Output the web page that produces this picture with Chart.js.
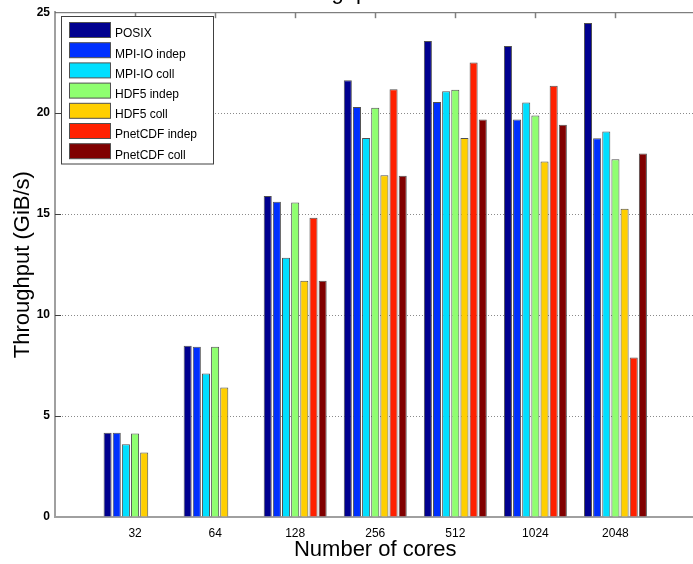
<!DOCTYPE html>
<html>
<head>
<meta charset="utf-8">
<script src="https://cdn.jsdelivr.net/npm/chart.js@4/dist/chart.umd.min.js"></script>
<style>
  html, body { margin: 0; padding: 0; background: #fff; }
  #wrap { width: 693px; height: 564px; overflow: hidden; position: relative; }
  #inner { width: 700px; height: 564px; }
</style>
</head>
<body>
<div id="wrap"><div id="inner"><canvas id="c" width="700" height="564"></canvas></div></div>
<script>
// ---- data ----
const cores = ['32', '64', '128', '256', '512', '1024', '2048'];
const seriesNames = ['POSIX', 'MPI-IO indep', 'MPI-IO coll', 'HDF5 indep', 'HDF5 coll', 'PnetCDF indep', 'PnetCDF coll'];
const posix        = [4.17, 8.48, 15.90, 21.63, 23.57, 23.33, 24.46];
const mpiioIndep   = [4.17, 8.43, 15.61, 20.30, 20.55, 19.68, 18.76];
const mpiioColl    = [3.60, 7.11, 12.84, 18.77, 21.09, 20.53, 19.09];
const hdf5Indep    = [4.14, 8.43, 15.58, 20.27, 21.16, 19.89, 17.72];
const hdf5Coll     = [3.20, 6.41, 11.70, 16.93, 18.77, 17.61, 15.26];
const pnetcdfIndep = [null, null, 14.82, 21.19, 22.51, 21.36, 7.90];
const pnetcdfColl  = [null, null, 11.70, 16.90, 19.69, 19.43, 18.00];
const yTicks = [0, 5, 10, 15, 20, 25];
const titleText = 'Throughput';
const xTitle = 'Number of cores';
const yTitle = 'Throughput (GiB/s)';

const colors = ['#00008f', '#0030ff', '#00dfff', '#8fff70', '#ffcf00', '#ff2000', '#800000'];
const allSeries = [posix, mpiioIndep, mpiioColl, hdf5Indep, hdf5Coll, pnetcdfIndep, pnetcdfColl];

const FONT = '"Liberation Sans", Arial, Helvetica, sans-serif';

const datasets = allSeries.map((vals, k) => ({
  label: seriesNames[k],
  data: vals.map((v, i) => ({ x: i + 1, y: v })),
  backgroundColor: colors[k],
  borderColor: '#505050',
  borderWidth: 1,
  categoryPercentage: 0.8,
  barPercentage: 0.88
}));

const extras = {
  id: 'extras',
  afterDatasetsDraw(chart) {
    const ctx = chart.ctx;
    const ca = chart.chartArea;
    const xs = chart.scales.x, ys = chart.scales.y;
    ctx.save();
    // top border
    ctx.strokeStyle = '#606060';
    ctx.lineWidth = 1;
    ctx.beginPath();
    ctx.moveTo(ca.left, ca.top + 0.5);
    ctx.lineTo(ca.right, ca.top + 0.5);
    ctx.stroke();
    // top inward ticks
    ctx.strokeStyle = '#808080';
    ctx.lineWidth = 1.5;
    cores.forEach((c, i) => {
      const px = Math.round(xs.getPixelForValue(i + 1)) + 0.5;
      ctx.beginPath();
      ctx.moveTo(px, ca.top);
      ctx.lineTo(px, ca.top + 6);
      ctx.stroke();
    });
    // left inward ticks
    ctx.strokeStyle = '#404040';
    ctx.lineWidth = 1;
    yTicks.forEach(v => {
      if (v === 0 || v === 25) return;
      const py = Math.round(ys.getPixelForValue(v)) + 0.5;
      ctx.beginPath();
      ctx.moveTo(ca.left, py);
      ctx.lineTo(ca.left + 6, py);
      ctx.stroke();
    });
    // legend box
    const bx = 61.5, by = 16.5, bw = 152, bh = 147.5;
    ctx.fillStyle = '#ffffff';
    ctx.fillRect(bx, by, bw, bh);
    ctx.strokeStyle = '#404040';
    ctx.lineWidth = 1;
    ctx.strokeRect(bx, by, bw, bh);
    ctx.font = '12px ' + FONT;
    ctx.textAlign = 'left';
    ctx.textBaseline = 'alphabetic';
    chart.data.datasets.forEach((ds, i) => {
      const sy = 22.5 + i * 20.2;
      ctx.fillStyle = ds.backgroundColor;
      ctx.fillRect(69.5, sy, 41, 15);
      ctx.strokeStyle = '#505050';
      ctx.strokeRect(69.5, sy, 41, 15);
      ctx.fillStyle = '#000';
      ctx.fillText(ds.label, 115, 37.3 + i * 20.2);
    });
    // partially visible title
    ctx.font = '22px ' + FONT;
    ctx.fillStyle = '#000';
    ctx.fillText(titleText, 274, -1.5);
    ctx.restore();
  }
};

new Chart(document.getElementById('c'), {
  type: 'bar',
  data: { datasets },
  plugins: [extras],
  options: {
    responsive: false,
    animation: false,
    devicePixelRatio: 1,
    layout: { padding: { left: 0, top: 10.5, right: 4.5, bottom: 0 } },
    plugins: { legend: { display: false }, tooltip: { enabled: false }, title: { display: false } },
    scales: {
      x: {
        type: 'linear',
        offset: false,
        min: 0,
        max: cores.length + 1,
        afterBuildTicks: (s) => { s.ticks = cores.map((c, i) => ({ value: i + 1 })); },
        afterFit: (s) => { s.height = 47; },
        ticks: {
          autoSkip: false,
          maxRotation: 0,
          padding: 9,
          color: '#000',
          font: { family: FONT, size: 12 },
          callback: (v) => cores[v - 1]
        },
        grid: { offset: false, drawOnChartArea: false, drawTicks: false },
        border: { display: true, color: '#a0a0a0', width: 2 },
        title: {
          display: true,
          text: xTitle,
          color: '#000',
          font: { family: FONT, size: 22 },
          padding: { top: 0, bottom: 1 }
        }
      },
      y: {
        min: 0,
        max: 25,
        afterBuildTicks: (s) => { s.ticks = yTicks.map(v => ({ value: v })); },
        afterFit: (s) => { s.width = 55; },
        ticks: {
          padding: 5,
          color: '#000',
          font: { family: FONT, size: 12, weight: 'bold' }
        },
        grid: {
          drawTicks: false,
          lineWidth: 1,
          color: (c) => (c.tick && (c.tick.value === 0 || c.tick.value === 25)) ? 'rgba(0,0,0,0)' : '#8a8a8a'
        },
        border: { display: true, color: '#a0a0a0', width: 2, dash: [1, 2] },
        title: {
          display: true,
          text: yTitle,
          color: '#000',
          font: { family: FONT, size: 22 },
          padding: { top: 10, bottom: 0 }
        }
      }
    }
  }
});
</script>
</body>
</html>
